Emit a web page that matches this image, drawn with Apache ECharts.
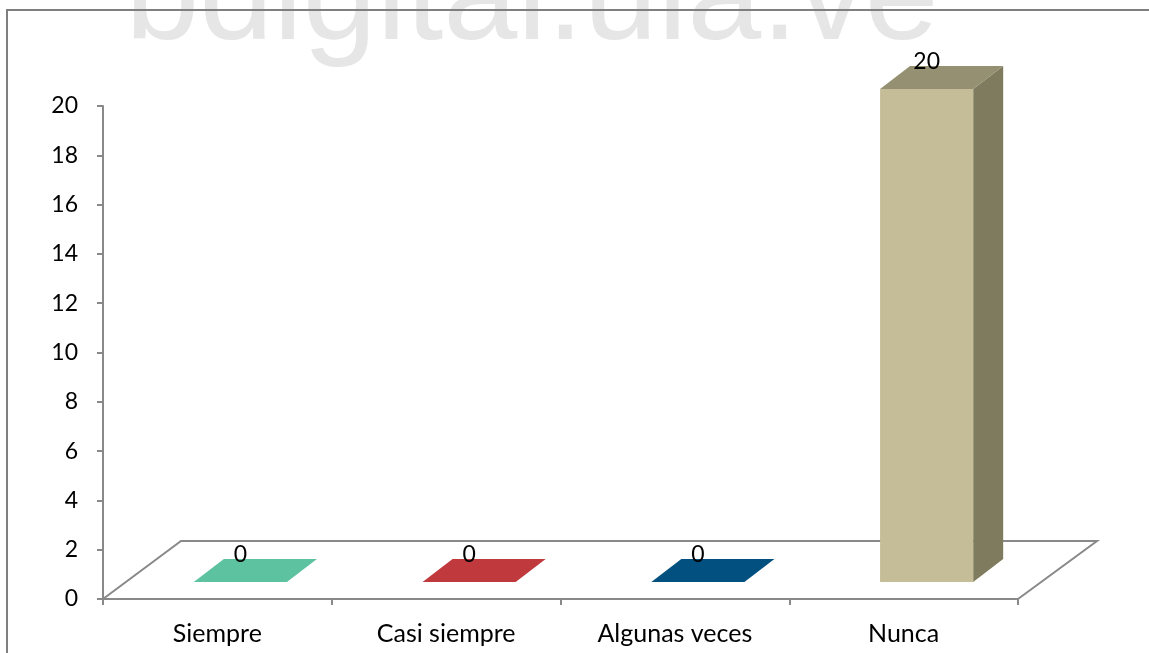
<!DOCTYPE html>
<html>
<head>
<meta charset="utf-8">
<script src="https://cdn.jsdelivr.net/npm/echarts@6/dist/echarts.min.js"></script>
<style>
  html, body { margin: 0; padding: 0; background: #ffffff; }
  #chart { width: 1149px; height: 653px; }
</style>
</head>
<body>
<div id="chart"></div>
<script>
// Survey answers and how many respondents chose each one
const categories = ['Siempre', 'Casi siempre', 'Algunas veces', 'Nunca'];
const counts = [0, 0, 0, 20];
const yTicks = { min: 0, max: 20, step: 2 };

// Face colours per bar: front, side, top
const frontColors = ['#5cc2a0', '#c0393c', '#02507f', '#c4bd97'];
const sideColors = ['#3f8c72', '#8a2729', '#01375a', '#7f7b5e'];
const topColors = ['#5cc2a0', '#c0393c', '#02507f', '#959071'];

// 3D projection offsets (pixels)
const FLOOR_DEPTH = [78, -58];
const BAR_FRONT = [23, -17];
const BAR_DEPTH = [30, -23];
const BAR_RATIO = 0.407;

const FONT = 'Lato, "Open Sans", sans-serif';
const AXIS_GRAY = '#898989';

const chart = echarts.init(document.getElementById('chart'), null, { renderer: 'canvas' });

function renderFloor(params, api) {
  const band = api.size([1, 0])[0];
  const first = api.coord([0, 0]);
  const last = api.coord([categories.length - 1, 0]);
  const xl = first[0] - band / 2;
  const xr = last[0] + band / 2;
  const y0 = first[1];
  const [dx, dy] = FLOOR_DEPTH;
  return {
    type: 'polyline',
    shape: { points: [[xl, y0], [xl + dx, y0 + dy], [xr + dx + 1, y0 + dy], [xr, y0]] },
    style: { stroke: AXIS_GRAY, lineWidth: 2, fill: null }
  };
}

function renderBar(params, api) {
  const idx = api.value(0);
  const val = api.value(1);
  const base = api.coord([idx, 0]);
  const top = api.coord([idx, val]);
  const bw = api.size([1, 0])[0] * BAR_RATIO;
  const cx = base[0] + BAR_FRONT[0];
  const x0 = cx - bw / 2, x1 = cx + bw / 2;
  const yb = base[1] + BAR_FRONT[1];
  const yt = top[1] + BAR_FRONT[1];
  const [dx, dy] = BAR_DEPTH;
  const children = [];
  if (yb - yt > 0.5) {
    children.push({
      type: 'polygon',
      shape: { points: [[x1, yt], [x1 + dx, yt + dy], [x1 + dx, yb + dy], [x1, yb]] },
      style: { fill: sideColors[idx] }
    });
    children.push({
      type: 'rect',
      shape: { x: x0, y: yt, width: x1 - x0, height: yb - yt },
      style: { fill: frontColors[idx] }
    });
  }
  children.push({
    type: 'polygon',
    shape: { points: [[x0, yt], [x0 + dx, yt + dy], [x1 + dx, yt + dy], [x1, yt]] },
    style: { fill: topColors[idx] }
  });
  children.push({
    type: 'text',
    style: {
      text: String(val), x: cx, y: yt - 27,
      align: 'center', verticalAlign: 'middle',
      font: '23px ' + FONT, fill: '#000000'
    },
    z2: 10
  });
  return { type: 'group', children };
}

chart.setOption({
  animation: false,
  backgroundColor: '#ffffff',
  grid: { left: 103, right: 131, top: 106, bottom: 54, containLabel: false },
  xAxis: {
    type: 'category',
    data: categories,
    boundaryGap: true,
    axisLine: { show: true, lineStyle: { color: AXIS_GRAY, width: 2 } },
    axisTick: { show: true, length: 6, alignWithLabel: false, lineStyle: { color: AXIS_GRAY, width: 2 } },
    axisLabel: { color: '#000000', fontFamily: FONT, fontSize: 25, margin: 22, interval: 0 },
    splitLine: { show: false }
  },
  yAxis: {
    type: 'value',
    min: yTicks.min, max: yTicks.max, interval: yTicks.step,
    axisLine: { show: true, lineStyle: { color: AXIS_GRAY, width: 2 } },
    axisTick: { show: true, length: 6, lineStyle: { color: AXIS_GRAY, width: 2 } },
    axisLabel: { color: '#000000', fontFamily: FONT, fontSize: 23, margin: 25 },
    splitLine: { show: false }
  },
  graphic: [
    {
      type: 'text', z: 0,
      style: {
        text: 'bdigital.ula.ve', x: 532, y: 2,
        align: 'center', verticalAlign: 'middle',
        font: '133px "Liberation Sans", Arial, sans-serif', fill: '#e6e6e6'
      }
    },
    {
      type: 'polyline', z: 100,
      shape: { points: [[7, 653], [7, 10], [1149, 10]] },
      style: { stroke: '#7f7f7f', lineWidth: 2, fill: null }
    }
  ],
  series: [
    {
      type: 'custom', name: 'floor', z: 1, silent: true,
      renderItem: renderFloor,
      data: [[0, 0]]
    },
    {
      type: 'custom', name: 'counts', z: 2,
      renderItem: renderBar,
      data: counts.map((v, i) => [i, v])
    }
  ]
});
</script>
</body>
</html>
